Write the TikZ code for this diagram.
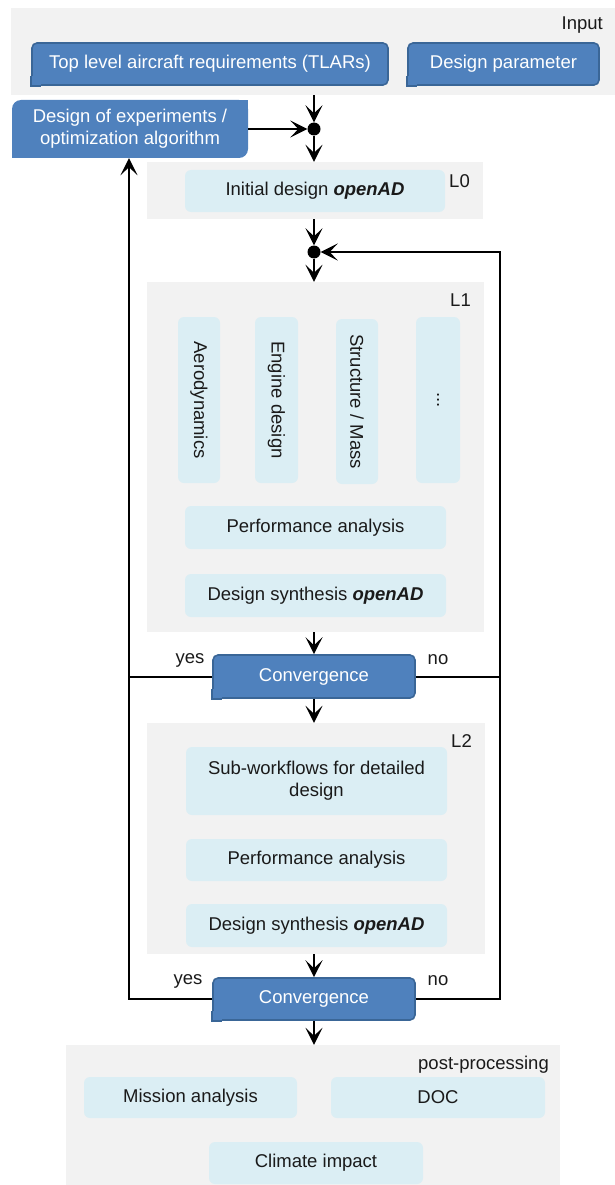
\documentclass[tikz,border=0pt]{standalone}
\usepackage{fontspec}
\usepackage{graphicx}
\setmainfont{Liberation Sans}
\usetikzlibrary{arrows.meta}
\definecolor{panelgray}{HTML}{F2F2F2}
\definecolor{lightblue}{HTML}{DBEEF4}
\definecolor{darkblue}{HTML}{4F81BD}
\definecolor{darkborder}{HTML}{3A6697}
\definecolor{txt}{HTML}{1A1A1A}
\newcommand{\sqcornerSW}[1]{%
  \fill[darkblue] (#1.south west) rectangle +(10,-10);
  \draw[darkborder, line width=1.6pt, line join=miter] ([yshift=10pt]#1.south west) -- (#1.south west) -- ([xshift=10pt]#1.south west);}
\begin{document}
\begin{tikzpicture}[x=1pt,y=-1pt,
  every node/.style={font=\fontsize{18.5}{22}\selectfont, text=txt, inner sep=0pt},
  panel/.style={fill=panelgray, draw=none},
  lbox/.style={fill=lightblue, draw=none, rounded corners=6pt, align=center},
  dbox/.style={fill=darkblue, draw=darkborder, line width=1.6pt, rounded corners=5pt, text=white, align=center},
  doebox/.style={fill=darkblue, draw=none, rounded corners=9pt, text=white, align=center},
  tag/.style={anchor=east},
  junction/.style={circle, fill=black, minimum size=13pt},
  conn/.style={line width=2pt, draw=black},
  arr/.style={conn, -{Stealth[length=17pt,width=17pt,inset=8pt]}}
]
\useasboundingbox (0,0) rectangle (615,1185);

% Input
\node[panel, minimum width=604pt, minimum height=87pt] (Inp) at (313,51.5) {};
\node[tag] (InpL) at (603,25) {Input};
\node[dbox, minimum width=356pt, minimum height=42pt] (TLAR) at (210,64) {Top level aircraft requirements (TLARs)};
\sqcornerSW{TLAR}
\node[dbox, minimum width=191pt, minimum height=42pt] (Param) at (503.5,64) {Design parameter};
\sqcornerSW{Param}

% DOE
\node[doebox, minimum width=236pt, minimum height=58pt] (DOE) at (130,129) {Design of experiments /\\optimization algorithm};
\fill[darkblue] (DOE.north east) rectangle +(-12,12);
\fill[darkblue] (DOE.south west) rectangle +(12,-12);
\node[junction] (dot1) at (314,129) {};

% L0
\node[panel, minimum width=336pt, minimum height=57pt] (L0) at (315,190.5) {};
\node[tag] (L0L) at (470,181) {L0};
\node[lbox, minimum width=260pt, minimum height=42pt] (Init) at (315,191) {Initial design \textbf{\textit{openAD}}};
\node[junction] (dot2) at (314,252) {};

% L1
\node[panel, minimum width=337pt, minimum height=350pt] (L1) at (315.5,457) {};
\node[tag] (L1L) at (471,300) {L1};
\node[lbox, minimum width=42pt, minimum height=166pt] (Aero) at (199,400) {\rotatebox{-90}{Aerodynamics}};
\node[lbox, minimum width=43pt, minimum height=166pt] (Eng) at (276.5,400) {\rotatebox{-90}{Engine design}};
\node[lbox, minimum width=42pt, minimum height=165pt] (Struct) at (357,401.5) {\rotatebox{-90}{Structure / Mass}};
\node[lbox, minimum width=44pt, minimum height=166pt] (More) at (438,400) {\rotatebox{-90}{...}};
\node[lbox, minimum width=261pt, minimum height=43pt] (Perf1) at (315.5,527.5) {Performance analysis};
\node[lbox, minimum width=261pt, minimum height=43pt] (Syn1) at (315.5,595.5) {Design synthesis \textbf{\textit{openAD}}};

% Convergence 1
\node[dbox, minimum width=202pt, minimum height=43pt] (C1) at (314,676.5) {Convergence};
\sqcornerSW{C1}
\node (yes1) at (190,660) {yes};
\node (no1) at (438,660) {no};

% L2
\node[panel, minimum width=338pt, minimum height=231pt] (L2) at (316,838.5) {};
\node[tag] (L2L) at (472,741) {L2};
\node[lbox, minimum width=261pt, minimum height=68pt] (Sub) at (316.5,781) {Sub-workflows for detailed\\design};
\node[lbox, minimum width=261pt, minimum height=42pt] (Perf2) at (316.5,860) {Performance analysis};
\node[lbox, minimum width=261pt, minimum height=43pt] (Syn2) at (316.5,925.5) {Design synthesis \textbf{\textit{openAD}}};

% Convergence 2
\node[dbox, minimum width=202pt, minimum height=42pt] (C2) at (314,999) {Convergence};
\sqcornerSW{C2}
\node (yes2) at (188,981) {yes};
\node (no2) at (438,981) {no};

% Post-processing
\node[panel, minimum width=494pt, minimum height=140pt] (Post) at (313,1115) {};
\node[tag] (PostL) at (549,1065) {post-processing};
\node[lbox, minimum width=213pt, minimum height=41pt] (Miss) at (190.5,1097.5) {Mission analysis};
\node[lbox, minimum width=214pt, minimum height=41pt] (DOC) at (438,1097.5) {DOC};
\node[lbox, minimum width=214pt, minimum height=42pt] (Clim) at (316,1163) {Climate impact};

% helper coordinates
\coordinate (lcol) at (129,0);
\coordinate (rtop) at (500,252);

% connectors
\draw[arr] (dot1 |- Inp.south) -- (dot1);
\draw[arr] (DOE.east) -- (dot1);
\draw[arr] (dot1) -- (dot1 |- L0.north);
\draw[arr] (dot2 |- L0.south) -- (dot2);
\draw[arr] (dot2) -- (dot2 |- L1.north);
\draw[arr] (C1 |- L1.south) -- (C1.north);
\draw[arr] (C1.south) -- (C1 |- L2.north);
\draw[arr] (C2 |- L2.south) -- (C2.north);
\draw[arr] (C2.south) -- (C2 |- Post.north);
\draw[arr] (C2.west) -| (DOE.south -| lcol);
\draw[conn] (C1.west) -- (C1.west -| lcol);
\draw[arr] (C2.east) -| (rtop) -- (dot2);
\draw[conn] (C1.east) -- (C1.east -| rtop);
\end{tikzpicture}
\end{document}
